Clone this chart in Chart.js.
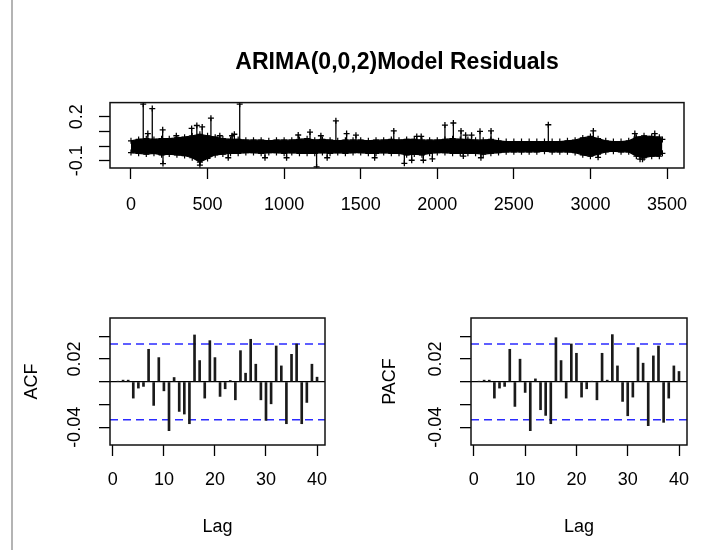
<!DOCTYPE html>
<html>
<head>
<meta charset="utf-8">
<script src="https://cdn.jsdelivr.net/npm/chart.js@4.4.0/dist/chart.umd.min.js"></script>
<style>
body{margin:0;background:#fff;}
#page{position:relative;width:720px;height:550px;overflow:hidden;background:#fff;}
#page canvas{position:absolute;}
#edge{position:absolute;left:11px;top:0;width:2px;height:550px;background:#b4b4b4;}
</style>
</head>
<body>
<div id="page">
<div id="edge"></div>
<canvas id="resid" width="720" height="230" style="left:0;top:0"></canvas>
<canvas id="acf" width="360" height="260" style="left:0;top:290px"></canvas>
<canvas id="pacf" width="360" height="260" style="left:360px;top:290px"></canvas>
</div>
<script>
// residuals: the dense band read as top / bottom edge every 50 obs, plus the single spikes
const residX = [0,50,100,150,200,250,300,350,400,450,500,550,600,650,700,750,800,850,900,950,
  1000,1050,1100,1150,1200,1250,1300,1350,1400,1450,1500,1550,1600,1650,1700,1750,1800,1850,1900,1950,
  2000,2050,2100,2150,2200,2250,2300,2350,2400,2450,2500,2550,2600,2650,2700,2750,2800,2850,2900,2950,
  3000,3050,3100,3150,3200,3250,3300,3350,3400,3450,3470];
const residUpper = [0.035,0.045,0.05,0.045,0.05,0.05,0.055,0.06,0.07,0.08,
  0.07,0.06,0.05,0.045,0.045,0.04,0.04,0.04,0.035,0.04,
  0.04,0.04,0.045,0.05,0.04,0.045,0.04,0.035,0.04,0.04,
  0.04,0.035,0.04,0.04,0.045,0.04,0.045,0.045,0.04,0.04,
  0.04,0.045,0.05,0.045,0.045,0.04,0.04,0.045,0.035,0.03,
  0.03,0.03,0.03,0.03,0.03,0.03,0.03,0.035,0.04,0.055,
  0.065,0.05,0.035,0.03,0.03,0.035,0.06,0.07,0.065,0.06,
  0.045];
const residLower = [-0.045,-0.05,-0.055,-0.05,-0.06,-0.055,-0.06,-0.065,-0.08,-0.11,
  -0.085,-0.06,-0.055,-0.05,-0.05,-0.045,-0.045,-0.05,-0.045,-0.045,
  -0.05,-0.045,-0.05,-0.05,-0.05,-0.045,-0.05,-0.045,-0.05,-0.045,
  -0.045,-0.05,-0.05,-0.045,-0.05,-0.05,-0.06,-0.055,-0.06,-0.05,
  -0.045,-0.045,-0.05,-0.05,-0.05,-0.05,-0.055,-0.05,-0.045,-0.04,
  -0.04,-0.04,-0.04,-0.04,-0.035,-0.04,-0.04,-0.04,-0.045,-0.06,
  -0.07,-0.055,-0.04,-0.035,-0.04,-0.04,-0.07,-0.08,-0.07,-0.07,
  -0.05];
const spikeX = [80,110,139,207,209,296,396,430,450,465,522,580,635,660,675,710,875,1016,1092,1169,
  1212,1240,1281,1338,1408,1469,1591,1716,1785,1833,1866,1895,1909,1968,2050,2105,2155,2170,2185,2224,
  2279,2285,2351,2725,3019,3050,3290,3324,3340,3420];
const spikeY = [0.285,0.085,0.255,0.11,-0.12,0.07,0.12,0.14,-0.13,0.13,0.19,0.07,-0.08,0.07,0.08,0.285,-0.08,-0.08,0.075,0.095,
  -0.143,0.07,-0.08,0.172,0.085,0.074,-0.08,0.103,-0.118,-0.097,0.065,0.065,-0.097,-0.088,0.143,0.157,0.103,-0.069,0.074,0.074,
  0.1,-0.08,0.103,0.145,0.103,-0.077,0.085,-0.09,-0.09,0.085];
const residXTicks = [0,500,1000,1500,2000,2500,3000,3500];
const residXLabels = ['0','500','1000','1500','2000','2500','3000','3500'];
const residYTicks = [-0.1,0,0.1,0.2];
const residYLabels = ['-0.1','','','0.2'];

const lags = [1,2,3,4,5,6,7,8,9,10,11,12,13,14,15,16,17,18,19,20,
  21,22,23,24,25,26,27,28,29,30,31,32,33,34,35,36,37,38,39,40];
const acfVals = [0.0003,0.0015,0.0015,-0.0143,-0.0055,-0.004,0.0286,-0.0207,0.0213,-0.0079,
  -0.0429,0.0038,-0.026,-0.0283,-0.0368,0.0412,0.0187,-0.0143,0.0362,0.0213,
  -0.0128,-0.0061,0.0012,-0.0158,0.0274,0.0076,0.0374,0.0155,-0.0158,-0.0339,
  -0.0193,0.0315,0.014,-0.0368,0.0242,0.0333,-0.0368,-0.0181,0.0155,0.0041];
const pacfVals = [0.0003,0.0015,0.0015,-0.0143,-0.0055,-0.004,0.0286,-0.0216,0.0199,-0.0093,
  -0.0429,0.0026,-0.0245,-0.0295,-0.0368,0.0388,0.0187,-0.0143,0.0333,0.0251,
  -0.0134,-0.0061,0.0002,-0.0158,0.0251,0.0015,0.0415,0.014,-0.0172,-0.0298,
  -0.0134,0.0301,0.0164,-0.0385,0.0228,0.0315,-0.0356,-0.0143,0.014,0.0091];
const clim = 0.0333;
const lagTicks = [0,10,20,30,40];
const lagLabels = ['0','10','20','30','40'];
const acfYTicks = [-0.04,-0.02,0,0.02,0.04];
const acfYLabels = ['-0.04','','','0.02',''];

Chart.defaults.font.family = "'Liberation Sans', Arial, sans-serif";
Chart.defaults.color = '#000';

// R style box round the plot region
const boxPlugin = {
  id: 'box',
  afterDatasetsDraw(chart) {
    const a = chart.chartArea;
    const c = chart.ctx;
    c.save();
    c.strokeStyle = '#111';
    c.lineWidth = 1.5;
    c.strokeRect(a.left, a.top, a.right - a.left, a.bottom - a.top);
    c.restore();
  }
};

const bandUpper = residX.map((x, i) => ({x: x, y: residUpper[i]}));
const bandLower = residX.map((x, i) => ({x: x, y: residLower[i]}));
const spikePts = [];
spikeX.forEach((x, i) => {
  spikePts.push({x: x, y: 0}, {x: x, y: spikeY[i]}, {x: x, y: null});
});

new Chart(document.getElementById('resid'), {
  type: 'line',
  data: {
    datasets: [
      {data: bandUpper, borderColor: '#000', backgroundColor: '#000', borderWidth: 1.2, fill: '+1',
        pointStyle: 'cross', pointRadius: 3, pointBorderWidth: 1.2, pointBorderColor: '#000'},
      {data: bandLower, borderColor: '#000', backgroundColor: '#000', borderWidth: 1.2, fill: false,
        pointStyle: 'cross', pointRadius: 3, pointBorderWidth: 1.2, pointBorderColor: '#000'},
      {data: spikePts, borderColor: '#000', borderWidth: 1.3, fill: false, spanGaps: false,
        pointStyle: 'cross', pointBorderColor: '#000', pointBorderWidth: 1.3,
        pointRadius: ctx => ctx.dataIndex % 3 === 1 ? 3 : 0}
    ]
  },
  options: {
    responsive: false,
    animation: false,
    layout: {padding: {left: 0, right: 36, top: 0, bottom: 0}},
    plugins: {
      legend: {display: false},
      tooltip: {enabled: false},
      title: {display: true, fullSize: false, text: 'ARIMA(0,0,2)Model Residuals', color: '#000',
        font: {size: 23, weight: 'bold'}, padding: {top: 49, bottom: 26}}
    },
    scales: {
      x: {
        type: 'linear', min: -137, max: 3611,
        afterBuildTicks: s => { s.ticks = residXTicks.map(v => ({value: v})); },
        afterFit: s => { s.height = 62; },
        grid: {drawOnChartArea: false, tickLength: 11, tickColor: '#000', tickWidth: 1.3},
        border: {display: false},
        ticks: {font: {size: 18}, padding: 15, maxRotation: 0, autoSkip: false,
          callback: (v, i) => residXLabels[i]}
      },
      y: {
        type: 'linear', min: -0.15, max: 0.296,
        afterBuildTicks: s => { s.ticks = residYTicks.map(v => ({value: v})); },
        afterFit: s => { s.width = 110; },
        grid: {drawOnChartArea: false, tickLength: 11, tickColor: '#000', tickWidth: 1.3},
        border: {display: false},
        ticks: {font: {size: 18}, padding: 6, minRotation: 90, maxRotation: 90, crossAlign: 'center',
          autoSkip: false, callback: (v, i) => residYLabels[i]}
      }
    }
  },
  plugins: [boxPlugin]
});

function corrChart(id, vals, title, rightPad, titlePad) {
  new Chart(document.getElementById(id), {
    type: 'bar',
    data: {
      datasets: [
        {type: 'bar', data: lags.map((l, i) => ({x: l, y: vals[i]})), backgroundColor: '#1a1a1a',
          barThickness: 2},
        {type: 'line', data: [{x: -0.56, y: clim}, {x: 41.56, y: clim}], borderColor: '#2b2bff',
          borderWidth: 1.6, borderDash: [8, 5], pointRadius: 0, fill: false},
        {type: 'line', data: [{x: -0.56, y: -clim}, {x: 41.56, y: -clim}], borderColor: '#2b2bff',
          borderWidth: 1.6, borderDash: [8, 5], pointRadius: 0, fill: false}
      ]
    },
    options: {
      responsive: false,
      animation: false,
      layout: {padding: {left: 0, right: rightPad, top: 28, bottom: 0}},
      plugins: {legend: {display: false}, tooltip: {enabled: false}},
      scales: {
        x: {
          type: 'linear', min: -0.56, max: 41.56, offset: false,
          afterBuildTicks: s => { s.ticks = lagTicks.map(v => ({value: v})); },
          afterFit: s => { s.height = 105; },
          grid: {drawOnChartArea: false, offset: false, tickLength: 11, tickColor: '#000', tickWidth: 1.3},
          border: {display: false},
          ticks: {font: {size: 18}, padding: 13, maxRotation: 0, autoSkip: false,
            callback: (v, i) => lagLabels[i]},
          title: {display: true, text: 'Lag', color: '#000', font: {size: 18}, padding: {top: 0, bottom: 12}}
        },
        y: {
          type: 'linear', min: -0.0555, max: 0.0561,
          afterBuildTicks: s => { s.ticks = acfYTicks.map(v => ({value: v})); },
          afterFit: s => { s.width = 110 + (id === 'pacf' ? 1 : 0); },
          grid: {
            color: ctx => (ctx.tick && ctx.tick.value === 0) ? '#000' : 'rgba(0,0,0,0)',
            lineWidth: 1.3, tickLength: 11, tickColor: '#000', tickWidth: 1.3
          },
          border: {display: false},
          ticks: {font: {size: 18}, padding: 3.5, minRotation: 90, maxRotation: 90, crossAlign: 'center',
            autoSkip: false, callback: (v, i) => acfYLabels[i]},
          title: {display: true, text: title, color: '#000', font: {size: 18}, padding: {top: titlePad, bottom: 0}}
        }
      }
    },
    plugins: [boxPlugin]
  });
}

corrChart('acf', acfVals, 'ACF', 35, 21);
corrChart('pacf', pacfVals, 'PACF', 33, 19);
</script>
</body>
</html>
